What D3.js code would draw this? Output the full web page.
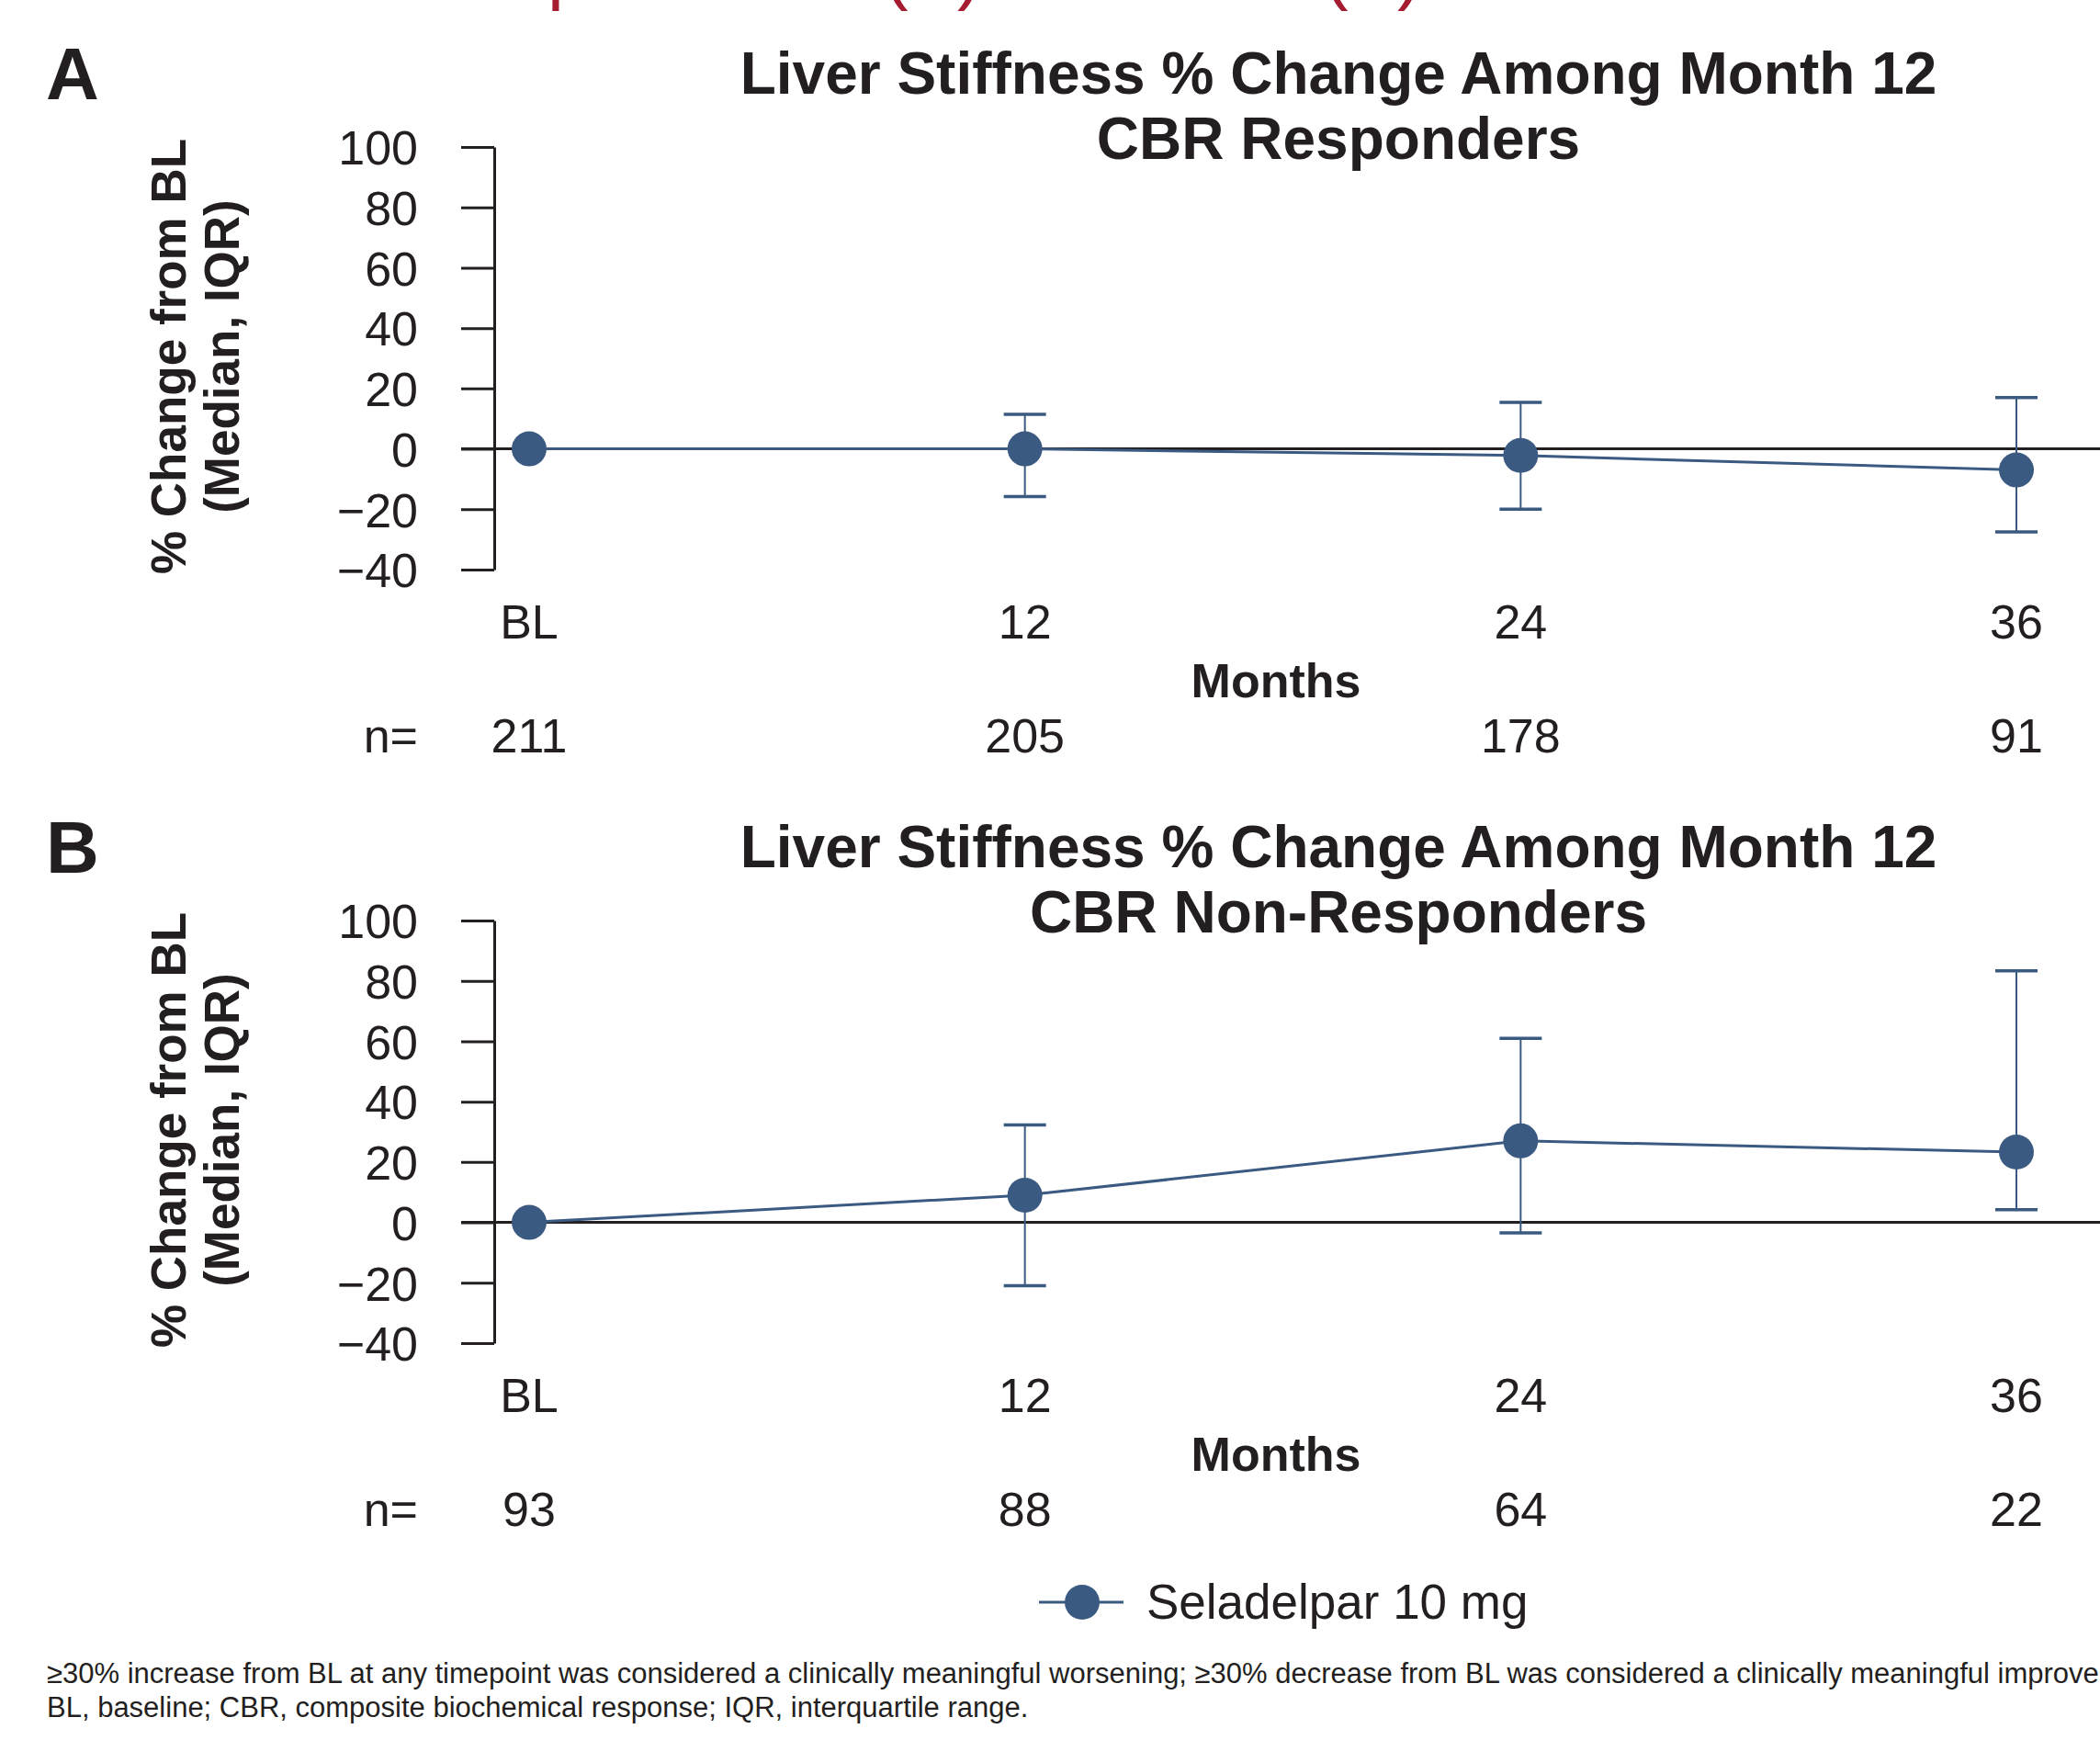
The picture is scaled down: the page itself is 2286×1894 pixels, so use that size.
<!DOCTYPE html>
<html>
<head>
<meta charset="utf-8">
<script src="https://d3js.org/d3.v7.min.js"></script>
<style>
    body { margin: 0; background: #fff; }
    svg text { font-family: "Liberation Sans", Arial, Helvetica, sans-serif; fill: #231f20; }
    .tick text { font-size: 52px; }
    .tick line, .domain { stroke: #231f20; stroke-width: 3px; }
</style>
</head>
<body>
<svg id="chart" width="2286" height="1894"></svg>
<script>
    // data
    const months = [0, 12, 24, 36];
    const monthLabels = ["BL", "12", "24", "36"];
    const yTicks = [-40, -20, 0, 20, 40, 60, 80, 100];

    const respMedian = [0, 0, -2.2, -7.0];
    const respQ1 = [null, -15.8, -20.0, -27.5];
    const respQ3 = [null, 11.4, 15.4, 17.0];
    const respN = [211, 205, 178, 91];

    const nonMedian = [0, 9.0, 27.0, 23.3];
    const nonQ1 = [null, -21.0, -3.5, 4.2];
    const nonQ3 = [null, 32.3, 61.0, 83.3];
    const nonN = [93, 88, 64, 22];

    const panels = [
        { letter: "A", title: ["Liver Stiffness % Change Among Month 12", "CBR Responders"],
          median: respMedian, q1: respQ1, q3: respQ3, n: respN, dy: 0 },
        { letter: "B", title: ["Liver Stiffness % Change Among Month 12", "CBR Non-Responders"],
          median: nonMedian, q1: nonQ1, q3: nonQ3, n: nonN, dy: 842 }
    ];

    const blue = "#3b5a81";
    const ink = "#231f20";
    const svg = d3.select("#chart");

    // red heading above, cut by the top edge
    const head = svg.append("text")
        .attr("y", -5)
        .style("font-size", "80px")
        .style("fill", "#a51c30");
    head.append("tspan").attr("x", 596).text("p");
    head.append("tspan").attr("x", 962).text("(A)");
    head.append("tspan").attr("x", 1441).text("(B)");

    const axisX = 538;
    const x = d3.scaleLinear().domain([0, 36]).range([576, 2195]);

    panels.forEach(p => {
        const g = svg.append("g").attr("transform", `translate(0,${p.dy})`);
        const y = d3.scaleLinear().domain([-40, 100]).range([620, 160]);

        g.append("text")
            .attr("x", 50).attr("y", 108)
            .style("font-size", "80px").style("font-weight", "bold")
            .text(p.letter);

        p.title.forEach((t, i) => {
            g.append("text")
                .attr("x", 1457).attr("y", 102 + i * 71)
                .attr("text-anchor", "middle")
                .style("font-size", "64px").style("font-weight", "bold")
                .text(t);
        });

        // y axis title
        const yt = g.append("g").attr("transform", "translate(0,388)");
        ["% Change from BL", "(Median, IQR)"].forEach((t, i) => {
            yt.append("text")
                .attr("transform", `translate(${202 + i * 58},0) rotate(-90)`)
                .attr("text-anchor", "middle")
                .style("font-size", "53px").style("font-weight", "bold")
                .text(t);
        });

        // zero reference line
        g.append("line")
            .attr("x1", axisX - 36).attr("x2", 2286)
            .attr("y1", y(0)).attr("y2", y(0))
            .attr("stroke", ink).attr("stroke-width", 3);

        g.append("g")
            .attr("transform", `translate(${axisX},0)`)
            .call(d3.axisLeft(y).tickValues(yTicks).tickSize(36).tickSizeOuter(0).tickPadding(47))
            .call(a => a.selectAll(".tick text").style("font-size", "52px").attr("dy", "0.36em"))
            .call(a => a.select(".domain").attr("stroke-width", 2.5));

        // month labels, axis title, n row
        months.forEach((m, i) => {
            g.append("text")
                .attr("x", x(m)).attr("y", 695)
                .attr("text-anchor", "middle")
                .style("font-size", "52px")
                .text(monthLabels[i]);
            g.append("text")
                .attr("x", x(m)).attr("y", 819)
                .attr("text-anchor", "middle")
                .style("font-size", "52px")
                .text(p.n[i]);
        });
        g.append("text")
            .attr("x", 1389).attr("y", 759)
            .attr("text-anchor", "middle")
            .style("font-size", "52px").style("font-weight", "bold")
            .text("Months");
        g.append("text")
            .attr("x", 455).attr("y", 819)
            .attr("text-anchor", "end")
            .style("font-size", "52px")
            .text("n=");

        // error bars
        const bars = months.map((m, i) => ({ m, lo: p.q1[i], hi: p.q3[i] })).filter(d => d.lo !== null);
        const eb = g.append("g").attr("stroke", blue);
        eb.selectAll(".stem").data(bars).join("line")
            .attr("x1", d => x(d.m)).attr("x2", d => x(d.m))
            .attr("y1", d => y(d.hi)).attr("y2", d => y(d.lo))
            .attr("stroke-width", 2);
        eb.selectAll(".capHi").data(bars).join("line")
            .attr("x1", d => x(d.m) - 23).attr("x2", d => x(d.m) + 23)
            .attr("y1", d => y(d.hi)).attr("y2", d => y(d.hi))
            .attr("stroke-width", 3.5);
        eb.selectAll(".capLo").data(bars).join("line")
            .attr("x1", d => x(d.m) - 23).attr("x2", d => x(d.m) + 23)
            .attr("y1", d => y(d.lo)).attr("y2", d => y(d.lo))
            .attr("stroke-width", 3.5);

        const pts = months.map((m, i) => ({ m, v: p.median[i] }));
        g.append("path")
            .datum(pts)
            .attr("fill", "none").attr("stroke", blue).attr("stroke-width", 3)
            .attr("d", d3.line().x(d => x(d.m)).y(d => y(d.v)));
        g.selectAll(".pt").data(pts).join("circle")
            .attr("cx", d => x(d.m)).attr("cy", d => y(d.v))
            .attr("r", 19).attr("fill", blue);
    });

    // legend
    const lg = svg.append("g").attr("transform", "translate(1178,1744)");
    lg.append("line").attr("x1", -47).attr("x2", 45).attr("stroke", blue).attr("stroke-width", 3);
    lg.append("circle").attr("r", 19).attr("fill", blue);
    lg.append("text").attr("x", 70).attr("y", 18).style("font-size", "53px").text("Seladelpar 10 mg");

    // footnotes
    const notes = [
        "\u226530% increase from BL at any timepoint was considered a clinically meaningful worsening; \u226530% decrease from BL was considered a clinically meaningful improvement.",
        "BL, baseline; CBR, composite biochemical response; IQR, interquartile range."
    ];
    notes.forEach((t, i) => {
        svg.append("text")
            .attr("x", 51).attr("y", 1832 + i * 37)
            .style("font-size", "31px")
            .text(t);
    });
</script>
</body>
</html>
